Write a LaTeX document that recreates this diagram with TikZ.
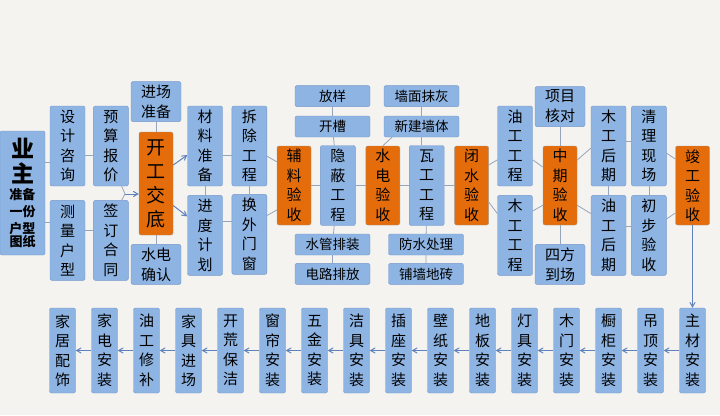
\documentclass[tikz,border=0pt]{standalone}
\usepackage{fontspec}
\setmainfont{Noto Sans CJK SC}
\usepackage{tikz}
\usetikzlibrary{arrows,positioning,calc}

\definecolor{boxblue}{RGB}{142,180,227}
\definecolor{boxedge}{RGB}{118,152,204}
\definecolor{hotorange}{RGB}{228,108,10}
\definecolor{hotedge}{RGB}{165,155,145}
\definecolor{linkgray}{RGB}{150,165,188}
\definecolor{arrowblue}{RGB}{95,130,188}
\definecolor{paper}{RGB}{244,243,239}

\begin{document}
\begin{tikzpicture}[x=1pt, y=-1pt, >=angle 60,
    tall/.style={draw=boxedge, fill=boxblue, rounded corners=2pt, inner sep=0pt,
        minimum width=35pt, minimum height=80pt, align=center,
        font=\fontsize{15pt}{19.5pt}\selectfont},
    hot/.style={tall, fill=hotorange, draw=hotedge, minimum width=34pt, minimum height=79pt},
    wide/.style={draw=boxedge, fill=boxblue, rounded corners=2pt, inner sep=0pt,
        minimum width=75pt, minimum height=21pt, font=\fontsize{13.5pt}{16pt}\selectfont},
    pair/.style={wide, minimum width=50pt, minimum height=40pt, align=center,
        font=\fontsize{15pt}{20pt}\selectfont},
    low/.style={tall, minimum width=26pt, minimum height=85pt},
    owner/.style={draw=boxedge, fill=boxblue, rounded corners=2pt, inner sep=0pt,
        minimum width=45pt, minimum height=124pt, text width=45pt, align=center},
    link/.style={draw=linkgray, line width=0.8pt},
    flow/.style={->, draw=arrowblue, line width=1pt}
    ]
\fill[paper] (0,0) rectangle (720,415);
\useasboundingbox (0,0) rectangle (720,415);

% owner and preparation
\node[owner] (yezhu) at (22.5,193)
    {{\fontsize{23pt}{25pt}\selectfont\bfseries 业\par 主\par}
     \fontsize{13pt}{17pt}\selectfont\bfseries 准备\par 一份\par 户型\par 图纸};
\node[tall] (sheji) at (67.5,146) {设\\计\\咨\\询};
\node[tall, below=14pt of sheji] (celiang) {测\\量\\户\\型};
\node[tall, right=8pt of sheji] (yusuan) {预\\算\\报\\价};
\node[tall, below=14pt of yusuan] (qianding) {签\\订\\合\\同};

% start of works
\node[hot, minimum height=103pt, font=\fontsize{19pt}{24pt}\selectfont] (kaigong) at (156,183.5) {开\\工\\交\\底};
\node[pair, above=10pt of kaigong] (jinchang) {进场\\准备};
\node[pair, below=9pt of kaigong] (shuidianqr) {水电\\确认};
\node[tall] (cailiao) at (205,146) {材\\料\\准\\备};
\node[tall, below=9pt of cailiao] (jindu) {进\\度\\计\\划};
\node[tall, right=9pt of cailiao] (chaichu) {拆\\除\\工\\程};
\node[tall, below=8pt of chaichu] (huanwai) {换\\外\\门\\窗};

% hidden works
\node[hot] (fuliao) at (294,185.5) {辅\\料\\验\\收};
\node[tall, right=9pt of fuliao] (yinbi) {隐\\蔽\\工\\程};
\node[wide] (kaicao) at (332.5,126.5) {开槽};
\node[wide, above=9pt of kaicao] (fangyang) {放样};
\node[wide] (shuiguan) at (332.5,244.5) {水管排装};
\node[wide, below=8pt of shuiguan] (dianlu) {电路排放};
\node[hot, right=10pt of yinbi] (shuidianys) {水\\电\\验\\收};

% masonry
\node[tall, right=9pt of shuidianys] (wagong) {瓦\\工\\工\\程};
\node[wide] (xinjian) at (421.5,126.5) {新建墙体};
\node[wide, above=9pt of xinjian] (qiangmian) {墙面抹灰};
\node[wide] (fangshui) at (426,244.5) {防水处理};
\node[wide, below=8pt of fangshui] (puqiang) {铺墙地砖};
\node[hot, right=10pt of wagong] (bishui) {闭\\水\\验\\收};

% mid-term and completion
\node[tall] (yougong) at (515,146) {油\\工\\工\\程};
\node[tall, below=9pt of yougong] (mugong) {木\\工\\工\\程};
\node[hot] (zhongqi) at (560,185.5) {中\\期\\验\\收};
\node[pair, above=19pt of zhongqi] (xiangmu) {项目\\核对};
\node[pair, below=19pt of zhongqi] (sifang) {四方\\到场};
\node[tall] (mugonghq) at (608.5,146) {木\\工\\后\\期};
\node[tall, below=9pt of mugonghq] (yougonghq) {油\\工\\后\\期};
\node[tall, right=5pt of mugonghq] (qingli) {清\\理\\现\\场};
\node[tall, below=9pt of qingli] (chubu) {初\\步\\验\\收};
\node[hot] (jungong) at (692.5,185.5) {竣\\工\\验\\收};

% installation chain, right to left
\node[low] (s1) at (692.5,350.5) {主\\材\\安\\装};
\foreach \t [count=\i from 2] in {吊\\顶\\安\\装, 橱\\柜\\安\\装, 木\\门\\安\\装,
    灯\\具\\安\\装, 地\\板\\安\\装, 壁\\纸\\安\\装, 插\\座\\安\\装, 洁\\具\\安\\装,
    五\\金\\安\\装, 窗\\帘\\安\\装, 开\\荒\\保\\洁, 家\\具\\进\\场, 油\\工\\修\\补,
    家\\电\\安\\装, 家\\居\\配\\饰}{
  \pgfmathtruncatemacro{\j}{\i-1}
  \node[low, left=15.6pt of s\j] (s\i) {\t};
  \draw[flow] (s\j) -- (s\i);
}

% connectors
\draw[link] (yezhu.53) -- (yezhu.53 -| sheji.west);
\draw[link] (yezhu.-52) -- (yezhu.-52 -| celiang.west);
\draw[link] (sheji.-27) -- (sheji.-27 -| yusuan.west);
\draw[link] (celiang.30) -- (celiang.30 -| qianding.west);
\coordinate (merge) at (125,194);
\draw[link] (yusuan.-75) -- (merge) -- (qianding.75);
\draw[flow] (merge) -- (merge -| kaigong.west);
\draw[link] (jinchang) -- (kaigong) -- (shuidianqr);
\draw[flow] (kaigong.47) -- (cailiao.207);
\draw[flow] (kaigong.-52) -- (jindu.133);
\draw[link] (cailiao.-27) -- (cailiao.-27 -| chaichu.west);
\draw[link] (jindu.39) -- (jindu.39 -| huanwai.west);
\draw[link] (cailiao) -- (jindu);
\draw[link] (chaichu) -- (huanwai);
\draw[link] (chaichu.-30) -- (fuliao.126);
\draw[link] (huanwai.47) -- (fuliao.235);
\draw[link] (fuliao) -- (yinbi) -- (shuidianys) -- (wagong) -- (bishui);
\draw[link] (fangyang) -- (kaicao) -- (yinbi) -- (shuiguan) -- (dianlu);
\draw[link] (xinjian.200) -- (shuidianys.north);
\draw[link] (qiangmian) -- (xinjian);
\draw[link] (xinjian.south) -- (xinjian.south |- wagong.north);
\draw[link] (wagong) -- (fangshui) -- (puqiang);
\draw[link] (bishui.50) -- (yougong.218);
\draw[link] (bishui.-44) -- (mugong.129);
\draw[link] (yougong.-38) -- (zhongqi.133);
\draw[link] (mugong.54) -- (zhongqi.229);
\draw[link] (xiangmu) -- (zhongqi) -- (sifang);
\draw[link] (zhongqi.56) -- (mugonghq.187);
\draw[link] (zhongqi.-49) -- (yougonghq.129);
\draw[link] (mugonghq.16) -- (mugonghq.16 -| qingli.west);
\draw[link] (yougonghq.28) -- (yougonghq.28 -| chubu.west);
\draw[link] (mugonghq) -- (yougonghq);
\draw[link] (qingli) -- (chubu);
\draw[link] (qingli.-22) -- (jungong.123);
\draw[link] (chubu.43) -- (jungong.238);
\draw[flow] (jungong) -- (s1);
\end{tikzpicture}
\end{document}
